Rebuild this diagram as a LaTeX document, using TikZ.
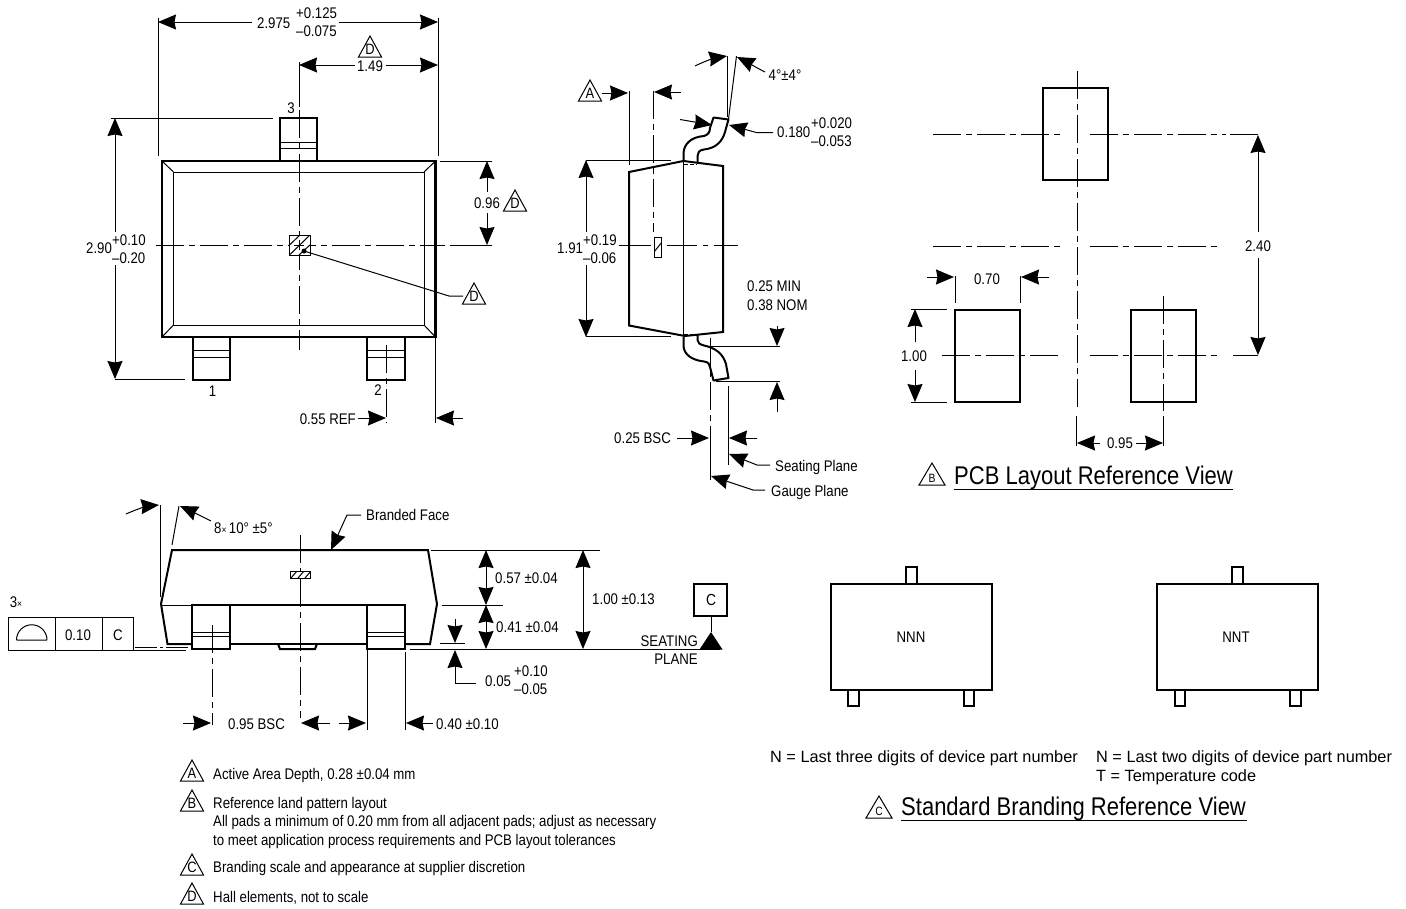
\documentclass[tikz,border=0pt]{standalone}
\usepackage{fontspec}
\setmainfont{Liberation Sans}[FakeStretch=0.86]
\newfontfamily\widefont{Liberation Sans}
\usetikzlibrary{arrows.meta}
\newcounter{tc}
\newcommand\sz[1]{\fontsize{#1}{#1}\selectfont}
\newcommand\TL[3]{\stepcounter{tc}\node[txt,anchor=base west] (t\arabic{tc}) at (#1,#2+5.5) {#3};}
\newcommand\TC[3]{\stepcounter{tc}\node[txt,anchor=base] (t\arabic{tc}) at (#1,#2+5.5) {#3};}
\newcommand\TR[3]{\stepcounter{tc}\node[txt,anchor=base east] (t\arabic{tc}) at (#1,#2+5.5) {#3};}
% triangle flag: cx, bottom y, letter
\newcommand\Flag[3]{\draw[thin1] (#1-11.5,#2) -- (#1,#2-21) -- (#1+11.5,#2) -- cycle;
  \stepcounter{tc}\node[txt,anchor=base] (t\arabic{tc}) at (#1,#2-2.5) {\sz{15}#3};}
\newcommand\FlagS[3]{\draw[thin1] (#1-13,#2) -- (#1,#2-22) -- (#1+13,#2) -- cycle;
  \stepcounter{tc}\node[txt,anchor=base] (t\arabic{tc}) at (#1,#2-3) {\sz{12}#3};}
\tikzset{
  txt/.style={inner sep=0pt,font=\sz{15.4},text=black},
  thin1/.style={line width=1pt},
  thick1/.style={line width=2.4pt,line join=miter},
  mid1/.style={line width=2pt},
  dd/.style={line width=1pt,dash pattern=on 28pt off 5pt on 6pt off 5pt},
  ar/.style={line width=1pt,-{Stealth[length=18pt,width=15pt,inset=1.5pt]}},
  arr/.style={line width=1pt,{Stealth[length=18pt,width=15pt,inset=1.5pt]}-{Stealth[length=18pt,width=15pt,inset=1.5pt]}},
}
\begin{document}
\begin{tikzpicture}[x=1pt,y=-1pt]
\useasboundingbox (0,0) rectangle (1406,908);
%%%%%%%% TOP VIEW
% extents
\draw[thin1] (158,18) -- (158,156);
\draw[thin1] (438,18) -- (438,156);
\draw[ar] (252,22) -- (158,22);
\draw[ar] (339,22) -- (438,22);
\TL{257}{23}{2.975}
\TL{296}{13}{+0.125}
\TL{296}{31}{--0.075}
\draw[thin1] (299,62) -- (299,107);
\draw[ar] (355,65) -- (299,65);
\draw[ar] (386,65) -- (438,65);
\TC{370}{66}{1.49}
\Flag{370}{57}{D}
% leads
\draw[mid1] (280,161) -- (280,118) -- (317,118) -- (317,161);
\draw[thin1] (280,142.5) -- (317,142.5) (280,148.5) -- (317,148.5);
\TC{291}{108}{3}
\draw[mid1] (192.5,337) -- (192.5,380) -- (230,380) -- (230,337);
\draw[thin1] (192.5,350.5) -- (230,350.5) (192.5,357.5) -- (230,357.5);
\TC{212.5}{391}{1}
\draw[mid1] (367,337) -- (367,380) -- (405,380) -- (405,337);
\draw[thin1] (367,350.5) -- (405,350.5) (367,357.5) -- (405,357.5);
\TC{378}{390}{2}
% body
\draw[thick1] (162,161) rectangle (435.5,337);
\draw[thin1] (173.5,172) rectangle (424,325);
\draw[thin1] (162,161) -- (173.5,172) (435.5,161) -- (424,172) (162,337) -- (173.5,325) (435.5,337) -- (424,325);
% centre lines
\draw[dd] (299,110) -- (299,350);
\draw[dd] (156,245) -- (445,245);
\draw[thin1] (450,245) -- (491,245);
% hall
\fill[white] (289.5,235) rectangle (310,255);
\begin{scope}
\clip (289.5,235) rectangle (310,255);
\draw[thin1] (289.5,245) -- (300,235) (289.5,255) -- (310,235) (299,255) -- (310,245);
\end{scope}
\draw[thin1] (289.5,235) rectangle (310,255);
\draw[thin1] (299,240) -- (299,250) (294,245) -- (304,245);
\fill (304,251) circle (2.5);
\draw[thin1] (304,251) -- (449,296) -- (463,296);
\Flag{474}{304}{D}
% 2.90
\draw[thin1] (111,118) -- (273,118);
\draw[thin1] (115,379) -- (185,379);
\draw[ar] (115,232) -- (115,118);
\draw[ar] (115,265) -- (115,379);
\TL{86}{248}{2.90}
\TL{112}{240}{+0.10}
\TL{112}{258}{--0.20}
% 0.96
\draw[thin1] (440,161) -- (492,161);
\draw[thin1] (450,245) -- (492,245);
\draw[ar] (487,192) -- (487,161);
\draw[ar] (487,213) -- (487,245);
\TC{487}{203}{0.96}
\Flag{515}{211}{D}
% 0.55 REF
\draw[dd] (386,345) -- (386,423);
\draw[thin1] (435.5,337) -- (435.5,423);
\draw[ar] (358,418) -- (386,418);
\draw[ar] (463,418) -- (436,418);
\TR{356}{419}{0.55 REF}
%%%%%%%% SIDE VIEW
\draw[mid1,line join=miter,fill=white] (629,172) -- (683.5,161) -- (723,166) -- (723,332) -- (685,336) -- (629,325.5) -- cycle;
\draw[thin1] (683.5,161) -- (683.5,336);
\draw[thin1,dash pattern=on 4pt off 2pt] (684,164) -- (697,164) (684,334) -- (697,334);
\draw[mid1,line join=round] (683.5,160) -- (683.5,153) .. controls (684,144) and (691,137) .. (704,136) .. controls (708,135) and (710,132) .. (710,128) -- (713.5,117.5) -- (728.5,119.5) -- (725,132) .. controls (722,142) and (716,148) .. (704,149.5) .. controls (699,150) and (697.5,153) .. (697.5,156) -- (697.5,162);
\draw[mid1,line join=round] (683.5,337) -- (683.5,346) .. controls (684,354) and (691,360) .. (704,361.5) .. controls (708,362) and (710,364) .. (710,367) -- (713.5,380.5) -- (728.5,378) -- (726,364) .. controls (723,354) and (716,348) .. (704,345.5) .. controls (700,344.5) and (697.5,343) .. (697.5,340) -- (697.5,335);
% angle
\draw[thin1] (727,56) -- (727,117);
\draw[thin1] (728.5,119) -- (736.5,56);
\draw[ar] (695,66) .. controls (705,61) and (715,58) .. (727,56);
\draw[ar] (765,72) .. controls (755,67) and (747,62) .. (737,57);
\TC{785}{75}{4°±4°}
% A
\Flag{590}{101}{A}
\draw[thin1] (629,91) -- (629,165);
\draw[ar] (602,93) -- (628,93);
\draw[dd] (653,91) -- (653,232);
\draw[ar] (681,92) -- (654,92);
\begin{scope}
\clip (654,237) rectangle (661.7,257);
\draw[thin1] (654,252) -- (662,242);
\end{scope}
\draw[thin1] (654,237) rectangle (661.7,257);
\draw[thin1] (619,245) -- (651,245);
\draw[thin1] (667,245) -- (697,245);
\draw[thin1] (703,245) -- (708,245);
\draw[thin1] (714,245) -- (738,245);
% 1.91
\draw[thin1] (586,160) -- (671,160);
\draw[thin1] (586,336.7) -- (671,336.7);
\draw[ar] (586,232) -- (586,160);
\draw[ar] (586,265) -- (586,337);
\TL{557}{248}{1.91}
\TL{583}{240}{+0.19}
\TL{583}{258}{--0.06}
% 0.180
\draw[ar] (680,119.5) -- (712,125);
\draw[ar] (773,132.7) -- (757,132.7) -- (729,125);
\TL{777}{132}{0.180}
\TL{811}{123}{+0.020}
\TL{811}{141}{--0.053}
% 0.25 MIN
\TL{747}{286}{0.25 MIN}
\TL{747}{305}{0.38 NOM}
\draw[ar] (777,326) -- (777,346);
\draw[thin1] (710,346) -- (780,346);
\draw[thin1] (716,381) -- (780,381);
\draw[ar] (777,412) -- (777,382);
% planes
\draw[dd] (710,338) -- (710,428);
\draw[thin1] (710,428) -- (710,480);
\draw[thin1] (728,386) -- (728,465);
\TL{614}{438}{0.25 BSC}
\draw[ar] (677,438) -- (709,438);
\draw[ar] (757,438) -- (729,438);
\draw[ar] (770,465) -- (757,465) -- (729,454);
\TL{775}{466}{Seating Plane}
\draw[ar] (765,490) -- (753,490) -- (711,476);
\TL{771}{491}{Gauge Plane}
%%%%%%%% FRONT VIEW
\draw[mid1] (161,604) -- (172,550) -- (428,550) -- (437,604) -- (430,644) -- (405,644);
\draw[mid1] (161,604) -- (167.5,644) -- (192,644);
\draw[thin1] (161,605) -- (192,605);
\draw[mid1] (192,605) -- (405,605);
\draw[mid1] (230,644) -- (367,644);
\draw[mid1] (278,644) -- (280,649) -- (315,649) -- (317,644);
\draw[mid1] (192,605) rectangle (230,649);
\draw[mid1] (367,605) rectangle (405,649);
\draw[thin1] (192,632) -- (230,632) (192,636.5) -- (230,636.5);
\draw[thin1] (367,632) -- (405,632) (367,636.5) -- (405,636.5);
\draw[dd] (300,535) -- (300,718);
\fill[white] (290,571) rectangle (310,578);
\begin{scope}
\clip (290,571) rectangle (310,578);
\draw[thin1] (291,578) -- (297,571) (298,578) -- (304,571) (305,578) -- (311,571);
\end{scope}
\draw[thin1] (290,571) rectangle (310,578);
\draw[dd] (212,625) -- (212,725);
\draw[thin1] (367,649) -- (367,730);
\draw[thin1] (405,652) -- (405,730);
\draw[ar] (183,723) -- (211,723);
\TL{228}{724}{0.95 BSC}
\draw[ar] (330,723) -- (301,723);
\draw[ar] (339,723) -- (366,723);
\draw[ar] (433,723) -- (406,723);
\TL{436}{724}{0.40 ±0.10}
\draw[thin1] (410,649) -- (720,649);
% tolerance frame
\draw[thin1] (8,617) rectangle (133,650);
\draw[thin1] (55,617) -- (55,650) (102,617) -- (102,650);
\draw[thin1] (16.5,640) -- (47,640) (16.5,640) arc[start angle=180,end angle=360,radius=15.25];
\TC{78}{635}{0.10}
\TC{118}{635}{C}
\TC{16}{602}{3\sz{10}×}
\draw[thin1] (123,650) -- (186,650);
\draw[thin1,dash pattern=on 22pt off 3pt on 3pt off 3pt] (135,647) -- (188,647);
% heights
\draw[thin1] (431,550) -- (600,550);
\draw[thin1] (442,605) -- (503,605);
\draw[arr] (486,550) -- (486,605);
\draw[arr] (486,605) -- (486,649);
\TL{495}{578}{0.57 ±0.04}
\TL{496}{627}{0.41 ±0.04}
\draw[arr] (583,550) -- (583,649);
\TL{592}{599}{1.00 ±0.13}
\draw[thin1] (440,643) -- (465,643);
\draw[ar] (455,619) -- (455,643);
\draw[ar] (476,683) -- (455,683) -- (455,650);
\TL{485}{681}{0.05}
\TL{514}{671}{+0.10}
\TL{514}{689}{--0.05}
% datum
\draw[mid1] (694,584) rectangle (727,616);
\draw[thin1] (711,616) -- (711,632);
\fill (699.5,649.5) -- (711,632) -- (722.5,649.5) -- cycle;
\TC{711}{600}{\sz{16}C}
\TR{698}{641}{SEATING}
\TR{698}{659}{PLANE}
% branded
\draw[ar] (361,515) -- (347,515) -- (331,550);
\TL{366}{515}{Branded Face}
% draft angle
\draw[thin1] (160,505) -- (160,597);
\draw[thin1] (172,545) -- (179,506);
\draw[ar] (126,514) .. controls (137,509) and (148,506) .. (159,505);
\draw[ar] (211,521) .. controls (201,516) and (191,511) .. (180,506);
\TL{214}{528}{8\sz{10}× \sz{15.4}10° ±5°}
%%%%%%%% PCB
\draw[mid1] (1043,88) rectangle (1108,180);
\draw[mid1] (955,310) rectangle (1020,402);
\draw[mid1] (1130.5,310) rectangle (1196,402);
\draw[dd] (1077,71) -- (1077,411);
\draw[dd] (933,134.5) -- (1064,134.5);
\draw[dd] (1090,134.5) -- (1226,134.5);
\draw[thin1] (1230,134.5) -- (1258,134.5);
\draw[dd] (933,246) -- (1063,246);
\draw[dd] (1090,246) -- (1220,246);
\draw[dd] (942,355.5) -- (1063,355.5);
\draw[dd] (1090,355.5) -- (1220,355.5);
\draw[thin1] (1233,355.5) -- (1258,355.5);
\draw[dd] (1163,296) -- (1163,411);
\draw[ar] (1258,232) -- (1258,135);
\draw[ar] (1258,258) -- (1258,355);
\TC{1258}{246}{2.40}
\draw[thin1] (1076,416) -- (1076,446) (1163,416) -- (1163,446);
\draw[ar] (1100,443) -- (1077,443);
\draw[ar] (1136,443) -- (1163,443);
\TC{1120}{443}{0.95}
\draw[thin1] (955,276) -- (955,303) (1020,276) -- (1020,303);
\draw[ar] (927,277) -- (954,277);
\draw[ar] (1049,277) -- (1021,277);
\TC{987}{279}{0.70}
\draw[thin1] (911,309) -- (947,309) (911,402) -- (947,402);
\draw[ar] (915,342) -- (915,309);
\draw[ar] (915,370) -- (915,402);
\TC{914}{356}{1.00}
\FlagS{932}{485}{B}
\stepcounter{tc}\node[txt,anchor=base west] (t\arabic{tc}) at (954,484) {\sz{25.6}PCB Layout Reference View};
\draw[thin1] (954,489) -- (1233,489);
%%%%%%%% BRANDING
\draw[mid1] (831,584) rectangle (992,690);
\draw[mid1] (906,584) -- (906,567) -- (917,567) -- (917,584);
\draw[mid1] (848,690) -- (848,706) -- (859,706) -- (859,690);
\draw[mid1] (964,690) -- (964,706) -- (974,706) -- (974,690);
\TC{911}{637}{NNN}
\draw[mid1] (1157,584) rectangle (1318,690);
\draw[mid1] (1232,584) -- (1232,567) -- (1243,567) -- (1243,584);
\draw[mid1] (1175,690) -- (1175,706) -- (1185,706) -- (1185,690);
\draw[mid1] (1290,690) -- (1290,706) -- (1301,706) -- (1301,690);
\TC{1236}{637}{NNT}
\TL{770}{757}{\widefont\sz{16.3}N = Last three digits of device part number}
\TL{1096}{757}{\widefont\sz{16.3}N = Last two digits of device part number}
\TL{1096}{776}{\widefont\sz{16.3}T = Temperature code}
\FlagS{879}{818}{C}
\stepcounter{tc}\node[txt,anchor=base west] (t\arabic{tc}) at (901,815) {\sz{25.6}Standard Branding Reference View};
\draw[thin1] (901,820) -- (1247,820);
%%%%%%%% NOTES
\Flag{192}{781}{A}
\TL{213}{774}{Active Area Depth, 0.28 ±0.04 mm}
\Flag{192}{811}{B}
\TL{213}{803}{Reference land pattern layout}
\TL{213}{821}{All pads a minimum of 0.20 mm from all adjacent pads; adjust as necessary}
\TL{213}{840}{to meet application process requirements and PCB layout tolerances}
\Flag{192}{875}{C}
\TL{213}{867}{Branding scale and appearance at supplier discretion}
\Flag{192}{904}{D}
\TL{213}{897}{Hall elements, not to scale}
\end{tikzpicture}
\end{document}
